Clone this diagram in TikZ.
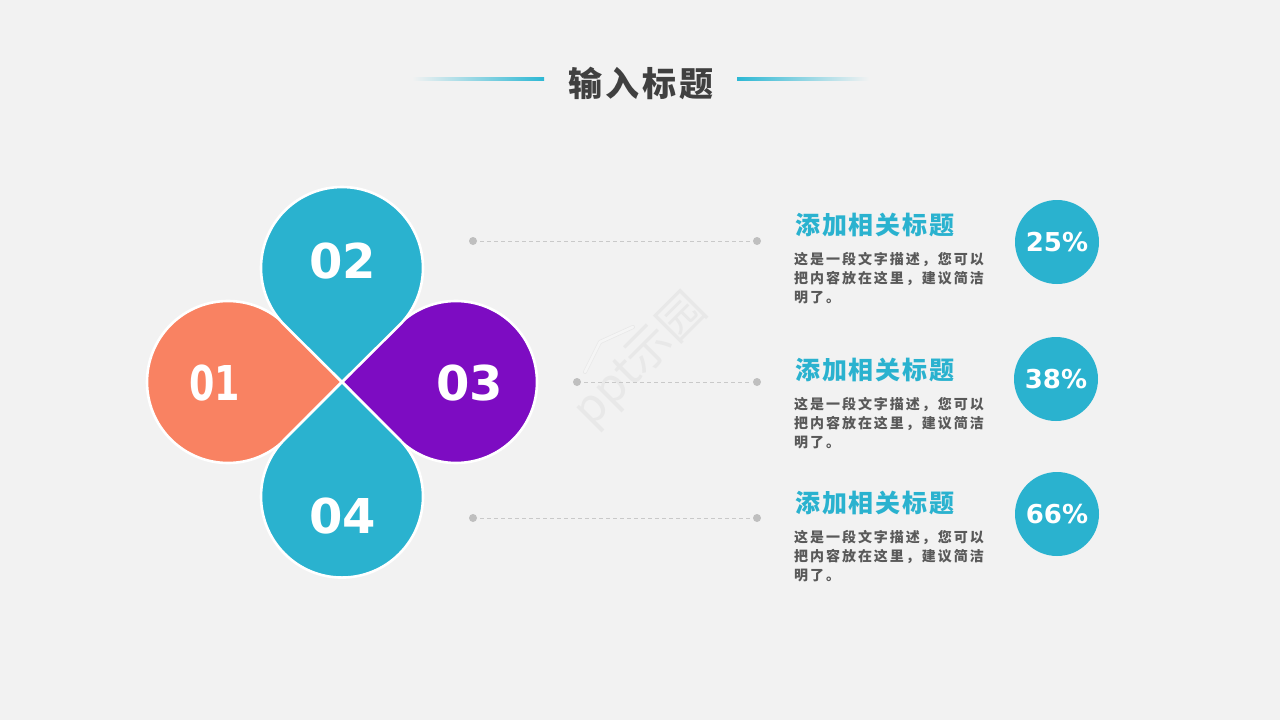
\documentclass[tikz,border=0pt]{standalone}
\usepackage{fontspec}
\setmainfont{Liberation Sans}
\newfontfamily\cjktitle[LetterSpace=8]{Noto Sans CJK SC}
\newfontfamily\cjkhead[LetterSpace=7.5]{Noto Sans CJK SC}
\newfontfamily\cjkbody[LetterSpace=14]{Noto Sans CJK SC}
\newfontfamily\cjkmark{Noto Sans CJK SC}
\newfontfamily\digitfont{DejaVu Sans}
\definecolor{pagebg}{HTML}{F2F2F2}
\definecolor{teal}{HTML}{2AB2CF}
\definecolor{coral}{HTML}{F98262}
\definecolor{violet}{HTML}{7D0CC2}
\definecolor{bartip}{HTML}{2DB8D4}
\definecolor{ink}{HTML}{404040}
\definecolor{bodyink}{HTML}{595959}
\definecolor{dotgray}{HTML}{BFBFBF}
\definecolor{dashgray}{HTML}{C9C9C9}
\definecolor{markgray}{HTML}{E8E8E8}
\definecolor{markwhite}{HTML}{F5F5F5}
\tikzset{
  petal/.style={draw=white,line width=2.6pt,line join=miter},
  petalnum/.style={inner sep=0pt,text=white,font=\digitfont\bfseries\fontsize{48}{48}\selectfont},
  titletext/.style={inner sep=0pt,text=ink,font=\cjktitle\bfseries\fontsize{34}{34}\selectfont},
  headtext/.style={inner sep=0pt,anchor=west,text=teal,font=\cjkhead\bfseries\fontsize{25}{25}\selectfont},
  bodytext/.style={inner sep=0pt,anchor=north west,align=left,text=bodyink,font=\cjkbody\bfseries\fontsize{14}{19}\selectfont},
  pctcircle/.style={circle,fill=teal,draw=none,minimum size=84pt,inner sep=0pt,text=white,font=\digitfont\bfseries\fontsize{26}{26}\selectfont},
  enddot/.style={circle,fill=dotgray,draw=none,minimum size=8pt,inner sep=0pt},
  leader/.style={draw=dashgray,line width=1pt,dash pattern=on 4pt off 3pt,shorten <=3pt,shorten >=3pt},
  marktext/.style={inner sep=0pt,rotate=45,text=markgray,font=\cjkmark\fontsize{46}{46}\selectfont},
  markroof/.style={line cap=round,line join=round},
}
\begin{document}
\begin{tikzpicture}[x=1pt,y=-1pt]
\useasboundingbox (0,0) rectangle (1280,720);
\fill[pagebg] (0,0) rectangle (1280,720);

% watermark
\node[marktext] (wm) at (641,361) {ppt示园};
\draw[markroof,draw=markgray,line width=4pt] (585,372) -- (600,342) -- (633,327);
\draw[markroof,draw=markwhite,line width=2.6pt] (585,372) -- (600,342) -- (633,327);

% title
\node[titletext] (title) at (641,83) {输入标题};
\shade[left color=pagebg,right color=bartip] (412,77.5) rectangle (544,80.5);
\shade[left color=bartip,right color=pagebg] (737,77.5) rectangle (869,80.5);

% petals
\path[petal,fill=coral]  (342,382) -- (285.28,324.72) arc[start angle=-45,delta angle=-270,radius=81] -- cycle;
\path[petal,fill=violet] (342,382) -- (398.72,324.72) arc[start angle=225,delta angle=270,radius=81] -- cycle;
\path[petal,fill=teal]   (342,382) -- (399.28,439.28) arc[start angle=-45,delta angle=270,radius=81] -- cycle;
\path[petal,fill=teal]   (342,382) -- (284.72,325.28) arc[start angle=135,delta angle=270,radius=81] -- cycle;
\node[petalnum] (n1) at (214.5,383.5) {\scalebox{.76}[1]{01}};
\node[petalnum] (n2) at (342.5,261.5) {02};
\node[petalnum] (n3) at (469.5,383.5) {03};
\node[petalnum] (n4) at (342.5,516) {04};

% leaders
\node[enddot] (a1) at (473,241) {};
\node[enddot] (b1) at (757,241) {};
\node[enddot] (a2) at (577,382) {};
\node[enddot] (b2) at (757,382) {};
\node[enddot] (a3) at (473,518) {};
\node[enddot] (b3) at (757,518) {};
\draw[leader] (a1) -- (b1);
\draw[leader] (a2) -- (b2);
\draw[leader] (a3) -- (b3);

% text blocks
\node[headtext] (h1) at (795,225) {添加相关标题};
\node[bodytext] (t1) at (794,252) {这是一段文字描述，您可以\\把内容放在这里，建议简洁\\明了。};
\node[pctcircle] (c1) at (1057,242) {25\%};

\node[headtext] (h2) at (795,370) {添加相关标题};
\node[bodytext] (t2) at (794,397) {这是一段文字描述，您可以\\把内容放在这里，建议简洁\\明了。};
\node[pctcircle] (c2) at (1056,379) {38\%};

\node[headtext] (h3) at (795,503) {添加相关标题};
\node[bodytext] (t3) at (794,530) {这是一段文字描述，您可以\\把内容放在这里，建议简洁\\明了。};
\node[pctcircle] (c3) at (1057,514) {66\%};
\end{tikzpicture}
\end{document}
